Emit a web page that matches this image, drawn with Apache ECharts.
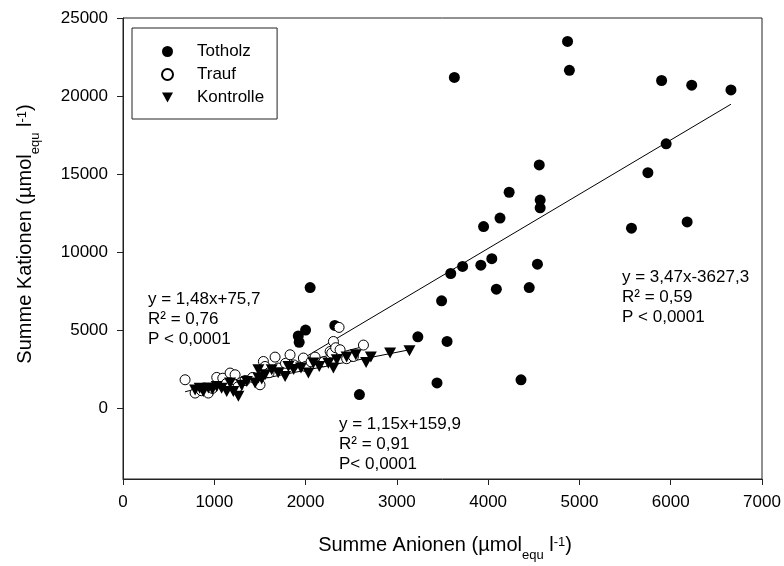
<!DOCTYPE html>
<html>
<head>
<meta charset="utf-8">
<script src="https://cdn.jsdelivr.net/npm/echarts@6/dist/echarts.min.js"></script>
<style>
html, body { margin: 0; padding: 0; background: #fff; }
#chart { width: 784px; height: 566px; }
</style>
</head>
<body>
<div id="chart"></div>
<script>
// [Summe Anionen, Summe Kationen]
const totholz = [
    [4870, 23500], [4890, 21650], [3630, 21200], [5900, 21000], [6230, 20700], [6660, 20400],
    [5950, 16950], [5750, 15100], [4560, 15600], [4230, 13850], [4570, 13350], [4570, 12850],
    [4130, 12200], [3950, 11650], [5570, 11550], [6180, 11950], [4040, 9600], [3920, 9180],
    [3720, 9100], [3590, 8650], [4540, 9250], [4090, 7650], [4450, 7750], [3490, 6900],
    [3230, 4600], [3550, 4300], [3440, 1650], [4360, 1850], [2050, 7750], [2000, 5030],
    [1920, 4650], [1930, 4250], [2320, 5330], [2590, 900]
]
const trauf = [
    [680, 1850], [790, 1000], [860, 1150], [935, 1000], [980, 1300], [1027, 2000],
    [1093, 1950], [1130, 1600], [1173, 2280], [1228, 2170], [1260, 1400], [1337, 1800],
    [1420, 2000], [1501, 1530], [1538, 3020], [1556, 2700], [1600, 2300], [1666, 3300],
    [1700, 2600], [1780, 2900], [1830, 3450], [1870, 2800], [1976, 3240], [2000, 2700],
    [2060, 3000], [2104, 3300], [2200, 3000], [2269, 3660], [2287, 3560], [2305, 4300],
    [2330, 3900], [2367, 5200], [2378, 3770], [2450, 3200], [2524, 3340], [2634, 4070]
]
const kontrolle = [
    [790, 1200], [840, 1300], [880, 1100], [935, 1320], [980, 1250], [1027, 1420],
    [1080, 1300], [1136, 1100], [1173, 1640], [1209, 1100], [1264, 800], [1300, 1500],
    [1356, 1745], [1447, 1640], [1483, 1960], [1483, 2490], [1520, 1900], [1556, 2170],
    [1629, 2490], [1700, 2300], [1776, 2065], [1812, 2700], [1870, 2500], [1950, 2600],
    [2031, 2280], [2086, 2920], [2150, 2700], [2250, 2900], [2305, 2600], [2342, 3130],
    [2450, 3300], [2550, 3450], [2663, 2960], [2715, 3300], [2926, 3560], [3138, 3700]
]
const seriesNames = ['Totholz', 'Trauf', 'Kontrolle']

// Regressionsgeraden: Steigung, Achsenabschnitt, x-Bereich
const regSlope = [3.47, 1.48, 1.15]
const regIntercept = [-3627.3, 75.7, 159.9]
const regRange = [[1900, 6660], [680, 2640], [790, 3150]]
const regText = [
    ['y = 3,47x-3627,3', 'R² = 0,59', 'P < 0,0001'],
    ['y = 1,48x+75,7', 'R² = 0,76', 'P < 0,0001'],
    ['y = 1,15x+159,9', 'R² = 0,91', 'P< 0,0001']
]

const xTicks = [0, 1000, 2000, 3000, 4000, 5000, 6000, 7000]
const yTicks = [0, 5000, 10000, 15000, 20000, 25000]

const FONT = '"Liberation Sans", Arial, sans-serif'
const DOWN_TRIANGLE = 'path://M0,0L10,0L5,9Z'

// Messung für zusammengesetzte Achsentitel (Index / Exponent)
const measureCtx = document.createElement('canvas').getContext('2d')
const textWidth = (t, size) => {
    measureCtx.font = size + 'px ' + FONT
    return measureCtx.measureText(t).width
}
const titleParts = (parts) => {
    const total = parts.reduce((s, p) => s + textWidth(p[0], p[1]), 0)
    let x = -total / 2
    return parts.map(p => {
        const el = {
            type: 'text',
            x: x,
            y: p[2] - 0.35 * p[1],
            style: {
                text: p[0],
                font: p[1] + 'px ' + FONT,
                fill: '#000',
                align: 'left',
                verticalAlign: 'middle'
            }
        }
        x += textWidth(p[0], p[1])
        return el
    })
}
const axisTitle = (main, x, y, rotation) => ({
    type: 'group',
    x: x,
    y: y,
    rotation: rotation,
    children: titleParts([
        [main + ' (µmol', 20, 0],
        ['equ', 13, 8],
        [' l', 20, 0],
        ['-1', 13, -5],
        [')', 20, 0]
    ])
})

const annotation = (lines, x, y) => ({
    type: 'text',
    x: x,
    y: y,
    style: {
        text: lines.join('\n'),
        font: '17px ' + FONT,
        lineHeight: 20,
        fill: '#000',
        align: 'left',
        verticalAlign: 'top'
    }
})

const regLine = (i) => ({
    type: 'line',
    data: regRange[i].map(x => [x, regSlope[i] * x + regIntercept[i]]),
    symbol: 'none',
    silent: true,
    lineStyle: { color: '#000', width: 1 },
    z: 1
})

const chart = echarts.init(document.getElementById('chart'))
chart.setOption({
    animation: false,
    backgroundColor: '#fff',
    grid: {
        left: 123,
        right: 22,
        top: 18,
        bottom: 87,
        show: true,
        borderColor: '#222',
        borderWidth: 1,
        backgroundColor: 'transparent'
    },
    legend: {
        data: [
            { name: seriesNames[0], icon: 'circle' },
            { name: seriesNames[1], icon: 'circle' },
            { name: seriesNames[2], icon: DOWN_TRIANGLE }
        ],
        orient: 'vertical',
        left: 132,
        top: 28,
        padding: [12, 13, 10, 29],
        itemGap: 0,
        itemWidth: 11,
        itemHeight: 11,
        borderColor: '#222',
        borderWidth: 1,
        textStyle: {
            fontFamily: FONT,
            fontSize: 17,
            color: '#000',
            lineHeight: 23,
            padding: [0, 0, 0, 19]
        }
    },
    xAxis: {
        type: 'value',
        min: xTicks[0],
        max: xTicks[xTicks.length - 1],
        interval: 1000,
        axisLine: { show: true, onZero: false, lineStyle: { color: '#222', width: 1 } },
        axisTick: { show: true, inside: false, length: 6, lineStyle: { color: '#222' } },
        axisLabel: { fontFamily: FONT, fontSize: 17, color: '#000', margin: 15, formatter: v => String(v) },
        splitLine: { show: false }
    },
    yAxis: {
        type: 'value',
        min: -4500,
        max: yTicks[yTicks.length - 1],
        axisLine: { show: true, onZero: false, lineStyle: { color: '#222', width: 1 } },
        axisTick: { show: true, inside: false, length: 6, customValues: yTicks, lineStyle: { color: '#222' } },
        axisLabel: {
            fontFamily: FONT, fontSize: 17, color: '#000', margin: 15,
            customValues: yTicks, formatter: v => String(v)
        },
        splitLine: { show: false }
    },
    graphic: [
        axisTitle('Summe Anionen', 445, 552, 0),
        axisTitle('Summe Kationen', 32, 234, Math.PI / 2),
        annotation(regText[0], 622, 267),
        annotation(regText[1], 148, 289),
        annotation(regText[2], 339, 414)
    ],
    series: [
        {
            name: seriesNames[0],
            type: 'scatter',
            data: totholz,
            symbol: 'circle',
            symbolSize: 11,
            itemStyle: { color: '#000', opacity: 1 },
            z: 3
        },
        {
            name: seriesNames[1],
            type: 'scatter',
            data: trauf,
            symbol: 'circle',
            symbolSize: 10,
            itemStyle: { color: '#fff', borderColor: '#000', borderWidth: 1, opacity: 1 },
            z: 3
        },
        {
            name: seriesNames[2],
            type: 'scatter',
            data: kontrolle,
            symbol: DOWN_TRIANGLE,
            symbolSize: [12, 11],
            itemStyle: { color: '#000', opacity: 1 },
            z: 3
        },
        regLine(0),
        regLine(1),
        regLine(2)
    ]
})
window.onresize = () => chart.resize()
</script>
</body>
</html>
